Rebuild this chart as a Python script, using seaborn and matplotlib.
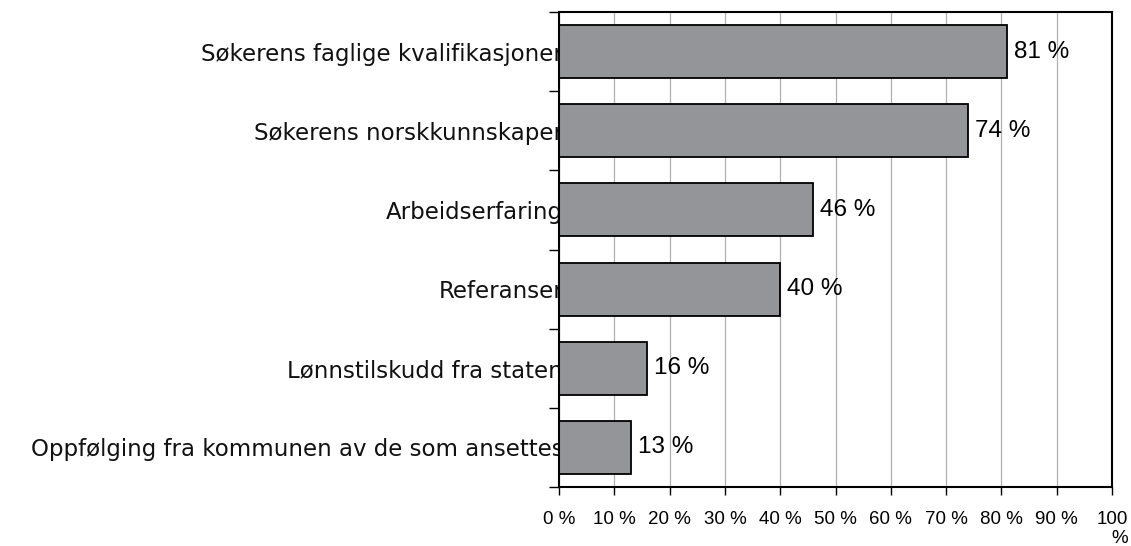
import matplotlib
matplotlib.use("Agg")
import matplotlib.pyplot as plt
import seaborn as sns
import pandas as pd

# Data
kategorier = [
    "Søkerens faglige kvalifikasjoner",
    "Søkerens norskkunnskaper",
    "Arbeidserfaring",
    "Referanser",
    "Lønnstilskudd fra staten",
    "Oppfølging fra kommunen av de som ansettes",
]
andel = [81, 74, 46, 40, 16, 13]
x_ticks = [0, 10, 20, 30, 40, 50, 60, 70, 80, 90, 100]
x_tick_labels = [f"{t} %" for t in x_ticks[:-1]] + ["100\n%"]

df = pd.DataFrame({"Kategori": kategorier, "Andel": andel})

sns.set_theme(style="white")
plt.rcParams["font.family"] = ["DejaVu Sans"]

fig = plt.figure(figsize=(11.31, 5.46), dpi=100)
ax = fig.add_axes([559 / 1131, 59 / 546, 553 / 1131, 475 / 546])

sns.barplot(data=df, x="Andel", y="Kategori", orient="h", color="#939598",
            edgecolor="black", linewidth=1.3, width=0.67, saturation=1, ax=ax)

ax.set_xlim(0, 100)
ax.set_ylim(5.5, -0.5)
ax.set_xticks(x_ticks)
ax.set_xticklabels(x_tick_labels, family="Liberation Sans", fontsize=13.5,
                   multialignment="right", color="black")
ax.grid(axis="x", color="#b0b0b0", linewidth=0.9)
ax.set_axisbelow(True)

# category labels right on the axis, boundary ticks as minor ticks
ax.set_yticks(range(len(kategorier)))
ax.set_yticklabels(kategorier, fontsize=16.5, color="#111111")
ax.tick_params(axis="y", which="major", length=0, pad=-3)
ax.set_yticks([i - 0.5 for i in range(len(kategorier) + 1)], minor=True)
ax.tick_params(axis="y", which="minor", left=True, length=7, width=1, color="black")
ax.tick_params(axis="x", bottom=True, length=6, width=1, color="black", pad=11)

for spine in ax.spines.values():
    spine.set_visible(True)
    spine.set_color("black")
    spine.set_linewidth(1.5)

ax.set_xlabel("")
ax.set_ylabel("")

for cont in ax.containers:
    ax.bar_label(cont, labels=[f"{v} %" for v in andel], padding=5,
                 family="Liberation Sans", fontsize=17.5, color="black")

fig.savefig("out.png", dpi=100)
